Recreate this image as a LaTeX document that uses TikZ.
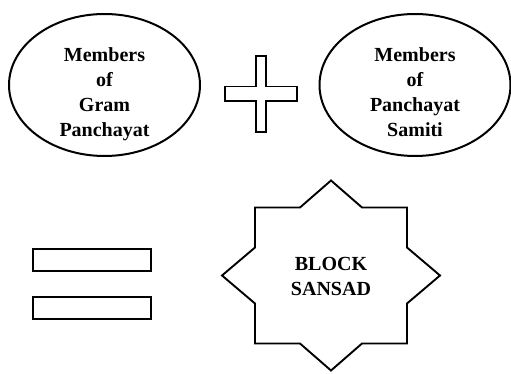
\documentclass[tikz,border=0pt]{standalone}
\usepackage{fontspec}
\setmainfont{Liberation Serif}
\usepackage{tikz}
\usetikzlibrary{shapes.geometric}
\tikzset{
  oval/.style={draw, ellipse, line width=2pt, minimum width=191pt, minimum height=142pt, inner sep=0pt},
  bar/.style={draw, line width=2pt, minimum width=118pt, minimum height=22.5pt, inner sep=0pt},
  lbl/.style={font=\bfseries\fontsize{20}{25}\selectfont, align=center, inner sep=0pt, anchor=north},
  outline/.style={draw, line width=1.9pt, line join=miter},
}
\begin{document}
\begin{tikzpicture}[x=1pt,y=-1pt]
\useasboundingbox (0,0) rectangle (511,374);
% the two ovals
\node[oval] (gp) at (104.5,85) {};
\node[oval] (ps) at (415,85) {};
\node[lbl] (gptxt) at (104.5,47.5) {Members\\of\\Gram\\Panchayat};
\node[lbl] (pstxt) at (415,47.5) {Members\\of\\Panchayat\\Samiti};
% plus sign
\coordinate (plus) at (261,94);
\draw[outline] (plus) ++(-5.3,-38) -- ++(10.6,0) -- ++(0,30.5) -- ++(30.5,0) -- ++(0,14.6)
  -- ++(-30.5,0) -- ++(0,30.9) -- ++(-10.6,0) -- ++(0,-30.9) -- ++(-31,0) -- ++(0,-14.6)
  -- ++(31,0) -- cycle;
% equals sign
\node[bar] (eqtop) at (92.3,260) {};
\node[bar] (eqbot) at (92.3,307.8) {};
% star
\node[lbl] (sansad) at (331,257.5) {BLOCK\\SANSAD};
\begin{scope}[shift={(331,275.5)}]
\draw[outline] (-76,-68) -- (-31,-68) -- (0,-95) -- (31,-68) -- (76,-68) -- (76,-28)
  -- (109,0) -- (76,28) -- (76,68) -- (31,68) -- (0,95) -- (-31,68) -- (-76,68)
  -- (-76,28) -- (-109,0) -- (-76,-28) -- cycle;
\end{scope}
\end{tikzpicture}
\end{document}
